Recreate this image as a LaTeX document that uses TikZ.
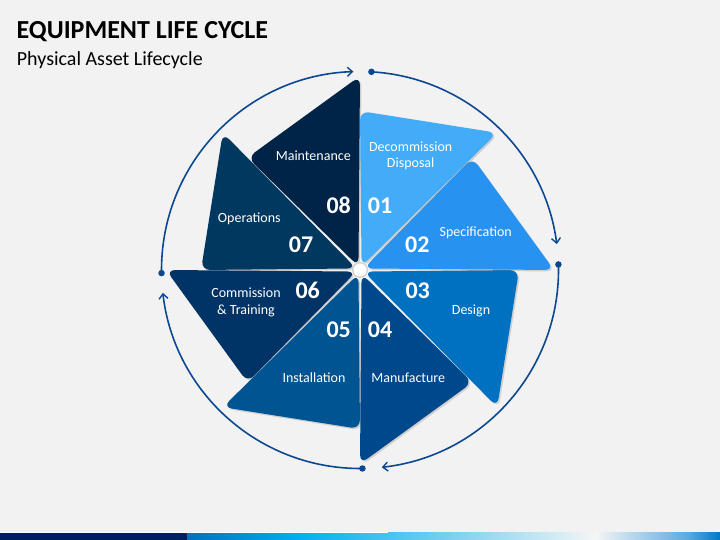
\documentclass[tikz,border=0pt]{standalone}
\usepackage{fontspec}
\setmainfont{Carlito}
\usetikzlibrary{arrows.meta,shadows,calc}
\definecolor{bg}{RGB}{242,242,242}
\definecolor{ringc}{RGB}{12,72,145}
\definecolor{cA}{RGB}{66,172,248}
\definecolor{cB}{RGB}{40,146,240}
\definecolor{cC}{RGB}{0,112,192}
\definecolor{cD}{RGB}{0,72,140}
\definecolor{cE}{RGB}{0,84,145}
\definecolor{cF}{RGB}{0,51,102}
\definecolor{cG}{RGB}{1,56,96}
\definecolor{cH}{RGB}{0,36,72}
\definecolor{navy}{RGB}{0,32,96}
\begin{document}
\begin{tikzpicture}[x=1pt,y=1pt,
  blade/.style={rounded corners=9pt, drop shadow={shadow xshift=1.5pt,shadow yshift=-1.5pt,opacity=0.3}},
  lbl/.style={text=white, font=\fontsize{14}{16.7}\selectfont, align=center, inner sep=0pt},
  num/.style={text=white, font=\fontsize{24}{24}\selectfont\bfseries, inner sep=0pt},
  ring/.style={draw=ringc, line width=1.6pt},
  ringarrow/.style={ring, -{Straight Barb[length=5pt,width=9pt,line width=1.4pt]}},
  dotc/.style={circle, fill=ringc, minimum size=6.5pt, inner sep=0pt}
]
\fill[bg] (0,0) rectangle (720,540);
\useasboundingbox (0,0) rectangle (720,540);
\coordinate (C) at (360,270);

% title
\node[anchor=base west, inner sep=0pt, font=\fontsize{26}{26}\selectfont\bfseries] (title) at (16.5,501.7) {EQUIPMENT LIFE CYCLE};
\node[anchor=base west, inner sep=0pt, font=\fontsize{20}{20}\selectfont] (sub) at (16.7,474) {Physical Asset Lifecycle};

% blades (08 first ... 01 last)
\foreach \a/\c in {135/cH, 180/cG, 225/cF, 270/cE, 315/cD, 0/cC, 45/cB, 90/cA}{
  \fill[blade, fill=\c] ($(C)+(\a-22.5:4)$) -- ($(C)+(\a:159)$) -- ($(C)+(\a-45:194)$) -- cycle;
}
\fill[black!18] (C) circle (8);
\fill[white] (C) circle (6.5);

% labels
\node[lbl] (l1) at (410.7,384.3) {Decommission\\Disposal};
\node[num] (n1) at (380,334.3) {01};
\node[lbl] (l2) at (475.7,307.3) {Specification};
\node[num] (n2) at (417.3,295) {02};
\node[num] (n3) at (417.7,249.3) {03};
\node[lbl] (l3) at (471,229.3) {Design};
\node[num] (n4) at (380,210.7) {04};
\node[lbl] (l4) at (408.3,162.7) {Manufacture};
\node[num] (n5) at (338.7,210.7) {05};
\node[lbl] (l5) at (314,162.7) {Installation};
\node[num] (n6) at (307.7,249.3) {06};
\node[lbl] (l6) at (246,237.5) {Commission\\\& Training};
\node[num] (n7) at (301,295) {07};
\node[lbl] (l7) at (249.3,321.3) {Operations};
\node[num] (n8) at (338.7,334.3) {08};
\node[lbl] (l8) at (313.3,384) {Maintenance};

% ring arcs
\coordinate (s1) at ($(C)+(86.7:198.5)$);
\coordinate (s2) at ($(C)+(1.6:198.5)$);
\coordinate (s3) at ($(C)+(-89.3:198.5)$);
\coordinate (s4) at ($(C)+(180.9:198.5)$);
\draw[ringarrow] (s1) arc[start angle=86.7, end angle=7.5, radius=198.5];
\draw[ringarrow] (s2) arc[start angle=1.6, end angle=-83.7, radius=198.5];
\draw[ringarrow] (s3) arc[start angle=-89.3, end angle=-173.4, radius=198.5];
\draw[ringarrow] (s4) arc[start angle=180.9, end angle=91.9, radius=198.5];
\node[dotc] (dot1) at (s1) {};
\node[dotc] (dot2) at (s2) {};
\node[dotc] (dot3) at (s3) {};
\node[dotc] (dot4) at (s4) {};

% bottom bar
\fill[navy] (0,0) rectangle (187,7);
\shade[left color={rgb,255:red,0;green,112;blue,192}, right color={rgb,255:red,0;green,176;blue,240}] (187,0) rectangle (300,7);
\shade[left color={rgb,255:red,0;green,176;blue,240}, right color={rgb,255:red,130;green,210;blue,240}] (299.5,0) rectangle (460,7);
\shade[left color={rgb,255:red,130;green,210;blue,240}, right color={rgb,255:red,245;green,245;blue,245}] (459.5,0) rectangle (596,7);
\shade[left color={rgb,255:red,245;green,245;blue,245}, right color={rgb,255:red,90;green,170;blue,225}] (595.5,0) rectangle (688,7);
\shade[left color={rgb,255:red,90;green,170;blue,225}, right color={rgb,255:red,0;green,120;blue,200}] (687.5,0) rectangle (720,7);
\fill[white] (0,7) rectangle (388,8);
\end{tikzpicture}
\end{document}
